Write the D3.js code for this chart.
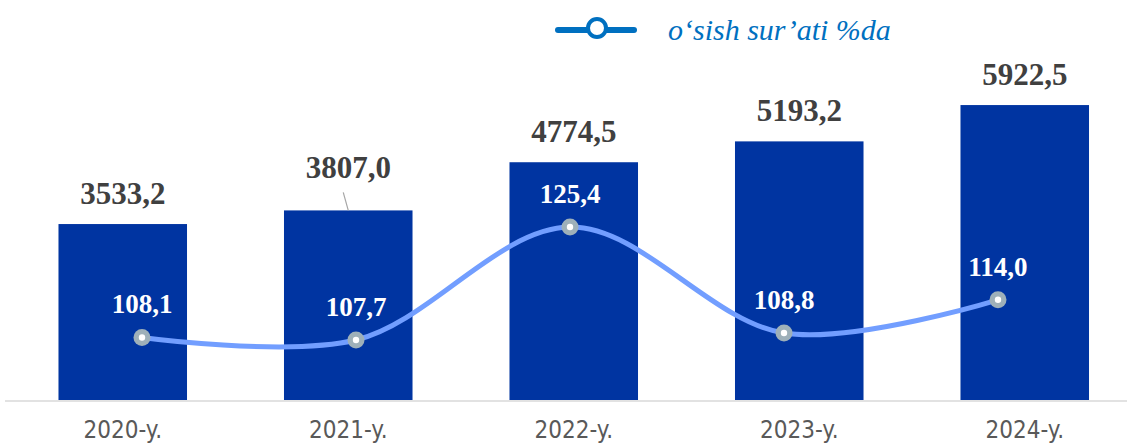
<!DOCTYPE html>
<html>
<head>
<meta charset="utf-8">
<script src="https://cdn.jsdelivr.net/npm/d3@7"></script>
<style>
  body { margin: 0; background: #fff; }
  svg { display: block; }
</style>
</head>
<body>
<script>
const years = ["2020-y.", "2021-y.", "2022-y.", "2023-y.", "2024-y."];
const volumes = [3533.2, 3807.0, 4774.5, 5193.2, 5922.5];
const growth = [108.1, 107.7, 125.4, 108.8, 114.0];
const legendLabel = "o‘sish sur’ati %da";

const svgWidth = 1127;
const svgHeight = 443;
const baseY = 400;

const fmt = v => v.toFixed(1).replace(".", ",");

const svg = d3.select("body").append("svg")
    .attr("width", svgWidth)
    .attr("height", svgHeight);

const x = d3.scaleBand()
    .domain(years)
    .range([10, 1137.5])
    .paddingInner(0.43)
    .paddingOuter(0.215);

const y = d3.scaleLinear()
    .domain([0, 6500])
    .range([baseY, 76.3]);

// line sits on its own x positions, narrower than the bars
const xl = d3.scalePoint()
    .domain(years)
    .range([142, 998]);

const yl = d3.scaleLinear()
    .domain([90, 130])
    .range([453, 197.7]);

// bars
svg.selectAll("rect.bar")
    .data(volumes)
    .enter()
    .append("rect")
    .attr("class", "bar")
    .attr("x", (d, i) => x(years[i]))
    .attr("y", d => y(d))
    .attr("width", x.bandwidth())
    .attr("height", d => baseY - y(d))
    .style("fill", "#0034a1");

// axis line
svg.append("line")
    .attr("x1", 5)
    .attr("x2", svgWidth)
    .attr("y1", baseY + 1)
    .attr("y2", baseY + 1)
    .style("stroke", "#d9d9d9")
    .style("stroke-width", 1.5);

// category labels
const xAxis = svg.append("g")
    .attr("transform", `translate(0,${baseY + 1})`)
    .call(d3.axisBottom(x).tickSize(0).tickPadding(0));
xAxis.select(".domain").remove();
xAxis.selectAll("text")
    .attr("y", 37)
    .attr("dy", null)
    .style("font-family", "'Liberation Sans Narrow', 'DejaVu Sans Condensed', sans-serif")
    .style("font-size", "24px")
    .style("fill", "#595959");

// bar value labels (2021 label lifted with a leader line)
const lift = (i) => i === 1 ? 12 : 0;
svg.selectAll("text.vol")
    .data(volumes)
    .enter()
    .append("text")
    .attr("class", "vol")
    .attr("x", (d, i) => x(years[i]) + x.bandwidth() / 2)
    .attr("y", (d, i) => y(d) - 20 - lift(i))
    .attr("text-anchor", "middle")
    .style("font-family", "'Liberation Serif', 'Times New Roman', serif")
    .style("font-weight", "bold")
    .style("font-size", "31px")
    .style("fill", "#404040")
    .text(d => fmt(d));

svg.append("line")
    .attr("x1", x(years[1]) + x.bandwidth() / 2 - 5)
    .attr("y1", y(volumes[1]) - 18)
    .attr("x2", x(years[1]) + x.bandwidth() / 2)
    .attr("y2", y(volumes[1]))
    .style("stroke", "#a6a6a6")
    .style("stroke-width", 1.2);

// growth line
const line = d3.line()
    .x((d, i) => xl(years[i]))
    .y(d => yl(d))
    .curve(d3.curveCatmullRom.alpha(0.5));

svg.append("path")
    .datum(growth)
    .attr("d", line)
    .style("fill", "none")
    .style("stroke", "#729eff")
    .style("stroke-width", 5)
    .style("stroke-linecap", "round");

svg.selectAll("circle.pt")
    .data(growth)
    .enter()
    .append("circle")
    .attr("class", "pt")
    .attr("cx", (d, i) => xl(years[i]))
    .attr("cy", d => yl(d))
    .attr("r", 8.5)
    .style("fill", "#9eb0b9");

svg.selectAll("circle.dot")
    .data(growth)
    .enter()
    .append("circle")
    .attr("class", "dot")
    .attr("cx", (d, i) => xl(years[i]))
    .attr("cy", d => yl(d))
    .attr("r", 3.2)
    .style("fill", "#ffffff");

svg.selectAll("text.gr")
    .data(growth)
    .enter()
    .append("text")
    .attr("class", "gr")
    .attr("x", (d, i) => xl(years[i]))
    .attr("y", d => yl(d) - 24)
    .attr("text-anchor", "middle")
    .style("font-family", "'Liberation Serif', 'Times New Roman', serif")
    .style("font-weight", "bold")
    .style("font-size", "27px")
    .style("fill", "#ffffff")
    .text(d => fmt(d));

// legend
const legend = svg.append("g");
legend.append("line")
    .attr("x1", 558)
    .attr("x2", 634)
    .attr("y1", 30)
    .attr("y2", 30)
    .style("stroke", "#0070c0")
    .style("stroke-width", 6)
    .style("stroke-linecap", "round");
legend.append("circle")
    .attr("cx", 597)
    .attr("cy", 28)
    .attr("r", 9)
    .style("fill", "#ffffff")
    .style("stroke", "#0070c0")
    .style("stroke-width", 4);
legend.append("text")
    .attr("x", 668)
    .attr("y", 40)
    .style("font-family", "'Liberation Serif', 'Times New Roman', serif")
    .style("font-style", "italic")
    .style("font-size", "30px")
    .style("fill", "#0070c0")
    .text(legendLabel);
</script>
</body>
</html>
